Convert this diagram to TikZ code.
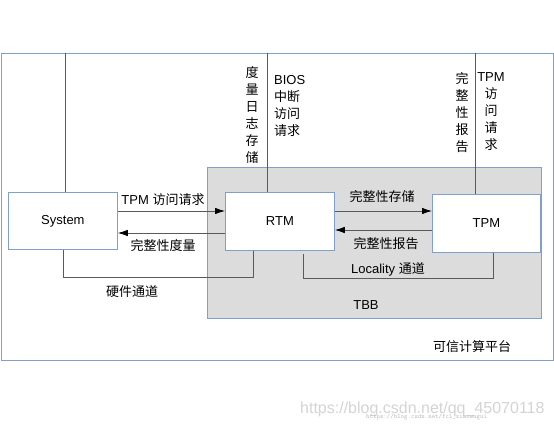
\documentclass[tikz,border=0pt]{standalone}
\usepackage{fontspec}
\setmainfont{Liberation Sans}
\newfontfamily\cjk{Noto Sans CJK SC}
\usetikzlibrary{arrows.meta}
\definecolor{boxblue}{HTML}{7F9FCC}
\definecolor{tbbgray}{HTML}{DCDCDC}
\definecolor{linegray}{HTML}{5A5A5A}
\definecolor{wmgray}{HTML}{D4D4D4}
\definecolor{wmgray2}{HTML}{BBBBBB}
\begin{document}
\begin{tikzpicture}[x=1pt,y=-1pt,font=\fontsize{13}{17}\selectfont,
  frm/.style={draw=boxblue,line width=0.8pt,anchor=north west,inner sep=0pt},
  box/.style={frm,fill=white},
  conn/.style={draw=linegray,line width=0.8pt},
  arr/.style={conn,-{Latex[length=10pt,width=6.5pt,black]}},
  lbl/.style={inner sep=0pt,text=black},
  vcol/.style={lbl,align=center,font=\cjk\fontsize{13}{17}\selectfont}]
\useasboundingbox (0,0) rectangle (554,428);
\fill[white] (0,0) rectangle (554,428);
% frames
\node[frm,minimum width=552pt,minimum height=307pt] (frame) at (1,53) {};
\node[frm,fill=tbbgray,minimum width=334pt,minimum height=151pt] (tbb) at (207,167) {};
\node[box,minimum width=109pt,minimum height=57pt] (sys) at (8,192) {};
\node[box,minimum width=109pt,minimum height=58pt] (rtm) at (225,192) {};
\node[box,minimum width=108pt,minimum height=58pt] (tpm) at (432,194) {};
\node[lbl] (syst) at (sys.center) {System};
\node[lbl] (rtmt) at (rtm.center) {RTM};
\node[lbl] (tpmt) at (tpm.center) {TPM};
% vertical lines from the top
\coordinate (s0) at (65,53);
\coordinate (r0) at (267,53);
\coordinate (t0) at (475,53);
\draw[conn] (s0) -- (s0 |- sys.north);
\draw[conn] (r0) -- (r0 |- rtm.north);
\draw[conn] (t0) -- (t0 |- tpm.north);
% arrows
\draw[arr] (sys.east |- 0,211) -- (rtm.west |- 0,211);
\draw[arr] (rtm.west |- 0,233) -- (sys.east |- 0,233);
\draw[arr] (rtm.east |- 0,211) -- (tpm.west |- 0,211);
\draw[arr] (tpm.west |- 0,230) -- (rtm.east |- 0,230);
% channels
\draw[conn] (sys.south -| 63,0) -- (63,277) -- (253,277) -- (rtm.south -| 253,0);
\draw[conn] ([yshift=-3pt]rtm.south -| 303,0) -- (303,278) -- (493,278) -- (tpm.south -| 493,0);
% labels
\node[lbl] (l1) at (163,200) {TPM {\cjk 访问请求}};
\node[lbl] (l2) at (163,246) {\cjk 完整性度量};
\node[lbl] (l3) at (132,292) {\cjk 硬件通道};
\node[lbl] (l4) at (382,197) {\cjk 完整性存储};
\node[lbl] (l5) at (386,244) {\cjk 完整性报告};
\node[lbl] (l6) at (388,269) {Locality {\cjk 通道}};
\node[lbl] (l7) at (366,305) {TBB};
\node[lbl] (l8) at (472,347) {\cjk 可信计算平台};
\node[vcol] (v1) at (252,115) {度\\量\\日\\志\\存\\储};
\node[lbl,align=left,anchor=west] (v2) at (274,106) {BIOS\\{\cjk 中断}\\{\cjk 访问}\\{\cjk 请求}};
\node[vcol] (v3) at (462,113) {完\\整\\性\\报\\告};
\node[lbl,align=center] (v4) at (491,112) {TPM\\{\cjk 访}\\{\cjk 问}\\{\cjk 请}\\{\cjk 求}};
% watermark
\node[lbl,text=wmgray,font=\fontsize{16}{18}\selectfont,anchor=west] (wm1) at (300,409) {https://blog.csdn.net/qq\_45070118};
\node[lbl,text=wmgray2,font=\ttfamily\fontsize{6.5}{8}\selectfont,anchor=west] (wm2) at (366,417) {https://blog.csdn.net/fcl\_xiaowugui};
\end{tikzpicture}
\end{document}
